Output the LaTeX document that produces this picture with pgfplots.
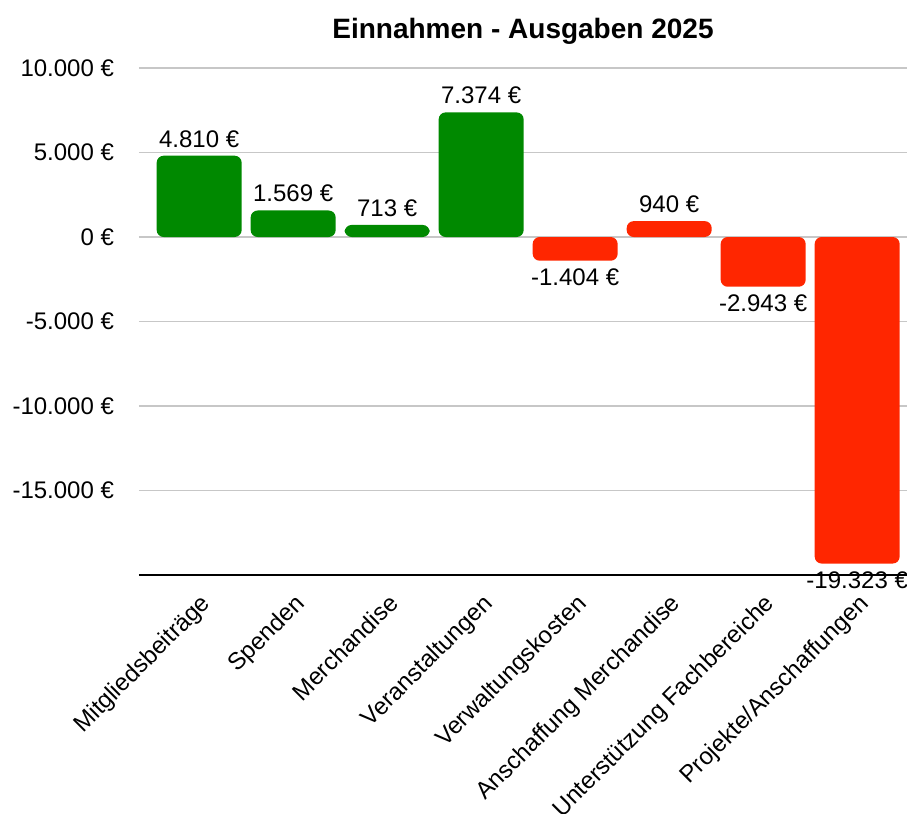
\documentclass[border=0pt]{standalone}
\usepackage{pgfplots}
\pgfplotsset{compat=1.18}
\usepackage{fontspec}
\setmainfont{Liberation Sans}
\definecolor{gbar}{RGB}{0,137,0}
\definecolor{rbar}{RGB}{255,38,0}
\begin{document}
\begin{tikzpicture}
\begin{axis}[
  name=ax,
  scale only axis,
  width=384pt, height=253.5pt,
  xmin=-0.64, xmax=7.53,
  ymin=-20000, ymax=10000,
  clip=false,
  scaled y ticks=false,
  ybar, bar width=42.5pt,
  axis x line*=bottom,
  axis y line*=left,
  x axis line style={-, line width=1.2pt, black},
  y axis line style={draw=none},
  major tick length=0pt,
  ytick={-15000,-10000,-5000,0,5000,10000},
  yticklabels={-15.000 €,-10.000 €,-5.000 €,0 €,5.000 €,10.000 €},
  yticklabel style={font=\fontsize{12}{14}\selectfont, xshift=-9pt},
  ymajorgrids,
  major grid style={draw=black!22, line width=0.6pt},
  xtick={0,1,2,3,4,5,6,7},
  xticklabels={Mitgliedsbeiträge,Spenden,Merchandise,Veranstaltungen,Verwaltungskosten,Anschaffung Merchandise,Unterstützung Fachbereiche,Projekte/Anschaffungen},
  xticklabel style={font=\fontsize{12}{14}\selectfont, yshift=-8.5pt, rotate=45, anchor=north east, inner sep=0pt},
  title={\bfseries Einnahmen - Ausgaben 2025},
  title style={font=\fontsize{14}{16}\selectfont, at={(0.5,1)}, anchor=base, yshift=9pt},
  point meta=explicit symbolic,
  nodes near coords,
  every node near coord/.append style={font=\fontsize{12}{14}\selectfont, inner sep=4pt},
  every axis plot/.append style={rounded corners=3.5pt, bar shift=0pt, draw=none},
]
\addplot[fill=gbar, nodes near coords style={anchor=south}] coordinates {(0,4810) [4.810 €] (1,1569) [1.569 €] (2,713) [713 €] (3,7374) [7.374 €]};
\addplot[fill=rbar, nodes near coords style={anchor=south}] coordinates {(5,940) [940 €]};
\addplot[fill=rbar, nodes near coords style={anchor=north}] coordinates {(4,-1404) [-1.404 €] (6,-2943) [-2.943 €] (7,-19323) [-19.323 €]};
\end{axis}
\pgfresetboundingbox
\path[use as bounding box] ([shift={(-69.5pt,-119.5pt)}]ax.south west) rectangle ([shift={(0pt,34pt)}]ax.north east);
\end{tikzpicture}
\end{document}
